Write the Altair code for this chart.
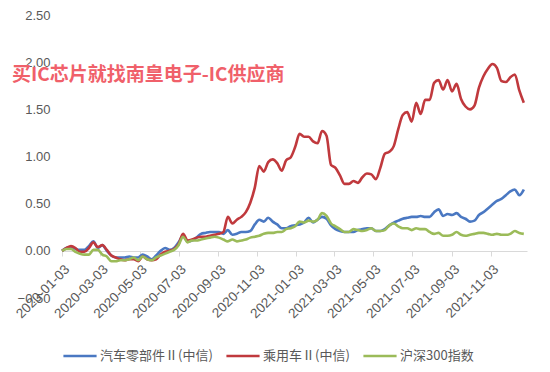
import altair as alt
import pandas as pd

# Weekly observation dates (x categories)
dates = pd.date_range("2020-01-03", periods=104, freq="7D")

# Cumulative returns
auto_parts = [
    0.00, 0.03, 0.04, 0.02, 0.01, 0.01, 0.05, 0.10, 0.03, 0.06,
    0.00, -0.05, -0.07, -0.07, -0.07, -0.06, -0.07, -0.07, -0.04, -0.06,
    -0.09, -0.05, 0.00, 0.03, 0.01, 0.03, 0.09, 0.16, 0.10, 0.11,
    0.14, 0.18, 0.19, 0.20, 0.20, 0.20, 0.18, 0.22, 0.17, 0.18,
    0.20, 0.20, 0.21, 0.28, 0.33, 0.31, 0.35, 0.31, 0.28, 0.24,
    0.24, 0.26, 0.27, 0.28, 0.30, 0.35, 0.30, 0.33, 0.36, 0.34,
    0.27, 0.23, 0.21, 0.20, 0.20, 0.20, 0.22, 0.23, 0.24, 0.24,
    0.21, 0.21, 0.23, 0.27, 0.30, 0.32, 0.34, 0.35, 0.36, 0.36,
    0.37, 0.36, 0.36, 0.41, 0.44, 0.37, 0.39, 0.38, 0.40, 0.36,
    0.34, 0.31, 0.32, 0.38, 0.41, 0.45, 0.49, 0.53, 0.55, 0.59,
    0.63, 0.65, 0.59, 0.65,
]
passenger_cars = [
    0.00, 0.03, 0.05, 0.03, -0.01, -0.01, 0.03, 0.09, 0.04, 0.06,
    0.01, -0.05, -0.07, -0.09, -0.10, -0.09, -0.09, -0.11, -0.06, -0.09,
    -0.10, -0.09, -0.04, -0.01, 0.00, 0.02, 0.07, 0.18, 0.11, 0.12,
    0.14, 0.15, 0.15, 0.16, 0.17, 0.18, 0.20, 0.36, 0.29, 0.33,
    0.36, 0.41, 0.51, 0.67, 0.90, 0.84, 0.94, 0.97, 0.93, 0.85,
    0.96, 0.99, 1.10, 1.24, 1.21, 1.21, 1.16, 1.14, 1.27, 1.22,
    0.91, 0.88, 0.80, 0.71, 0.71, 0.74, 0.72, 0.78, 0.82, 0.81,
    0.76, 0.88, 1.03, 1.05, 1.11, 1.29, 1.44, 1.47, 1.37, 1.57,
    1.45, 1.60, 1.60, 1.78, 1.81, 1.71, 1.81, 1.69, 1.77, 1.61,
    1.53, 1.50, 1.54, 1.73, 1.85, 1.93, 1.98, 1.94, 1.80, 1.79,
    1.84, 1.87, 1.70, 1.57,
]
csi300 = [
    0.00, 0.02, 0.02, -0.01, -0.03, -0.04, -0.04, 0.01, 0.01, -0.04,
    -0.06, -0.11, -0.11, -0.10, -0.10, -0.09, -0.07, -0.10, -0.06, -0.09,
    -0.10, -0.07, -0.05, -0.03, -0.01, 0.01, 0.06, 0.15, 0.09, 0.11,
    0.11, 0.12, 0.13, 0.14, 0.15, 0.14, 0.12, 0.10, 0.12, 0.10,
    0.11, 0.12, 0.14, 0.15, 0.16, 0.18, 0.19, 0.19, 0.20, 0.20,
    0.23, 0.24, 0.26, 0.31, 0.30, 0.32, 0.31, 0.33, 0.40, 0.37,
    0.29, 0.26, 0.23, 0.20, 0.20, 0.23, 0.22, 0.21, 0.22, 0.24,
    0.21, 0.21, 0.22, 0.27, 0.29, 0.26, 0.24, 0.24, 0.22, 0.24,
    0.23, 0.23, 0.20, 0.18, 0.19, 0.16, 0.16, 0.17, 0.20, 0.17,
    0.16, 0.17, 0.18, 0.19, 0.19, 0.18, 0.17, 0.18, 0.17, 0.17,
    0.18, 0.21, 0.19, 0.18,
]

series_names = ["汽车零部件Ⅱ(中信)", "乘用车Ⅱ(中信)", "沪深300指数"]
series_colors = ["#4a78c2", "#c0393d", "#9bbb59"]

x_tick_labels = [
    "2020-01-03", "2020-03-03", "2020-05-03", "2020-07-03", "2020-09-03", "2020-11-03",
    "2021-01-03", "2021-03-03", "2021-05-03", "2021-07-03", "2021-09-03", "2021-11-03",
]
y_ticks = [-0.5, 0.0, 0.5, 1.0, 1.5, 2.0, 2.5]
watermark = "买IC芯片就找南皇电子-IC供应商"

rows = []
for name, vals in zip(series_names, [auto_parts, passenger_cars, csi300]):
    for d, v in zip(dates, vals):
        rows.append({"date": d.strftime("%Y-%m-%d"), "series": name, "value": v})
df = pd.DataFrame(rows)

cjk = "Noto Sans CJK SC"
grey = "#595959"

lines = alt.Chart(df).mark_line(strokeWidth=2.6, interpolate="monotone").encode(
    x=alt.X(
        "date:T",
        scale=alt.Scale(domain=["2020-01-03", "2021-12-29"]),
        axis=alt.Axis(
            values=x_tick_labels,
            format="%Y-%m-%d",
            labelAngle=315,
            labelAlign="right",
            labelBaseline="top",
            labelFontSize=13.5,
            labelColor=grey,
            labelFont="Liberation Sans",
            labelPadding=6,
            tickSize=5,
            tickColor="#d9d9d9",
            domainColor="#d9d9d9",
            grid=False,
            offset=-47,
            title=None,
            labelOverlap=False,
        ),
    ),
    y=alt.Y(
        "value:Q",
        scale=alt.Scale(domain=[-0.5, 2.5], nice=False, zero=False),
        axis=alt.Axis(
            values=y_ticks,
            format=".2f",
            grid=False,
            domain=False,
            ticks=False,
            labelFontSize=13,
            labelColor=grey,
            labelFont="Liberation Sans",
            labelPadding=12,
            title=None,
        ),
    ),
    color=alt.Color(
        "series:N",
        scale=alt.Scale(domain=series_names, range=series_colors),
        sort=series_names,
        legend=alt.Legend(
            title=None,
            orient="none",
            direction="horizontal",
            legendX=0,
            legendY=323,
            symbolType="stroke",
            symbolSize=1100,
            symbolStrokeWidth=2.6,
            labelFont=cjk,
            labelFontSize=13,
            labelColor=grey,
            labelOffset=2,
            columnPadding=8,
        ),
    ),
)

wm = alt.Chart(pd.DataFrame({"t": [watermark]})).mark_text(
    font=cjk,
    fontSize=19,
    fontWeight="bold",
    color="#f0606a",
    align="left",
    baseline="middle",
).encode(
    text="t:N",
    x=alt.value(-50),
    y=alt.value(60),
)

chart = alt.layer(lines, wm).properties(
    width=465,
    height=283,
    autosize=alt.AutoSizeParams(type="none"),
    padding={"left": 54, "top": 7, "right": 15, "bottom": 70},
).configure(background="white", view=alt.ViewConfig(stroke=None))

chart.save("out.html", embed_options={"renderer": "svg", "actions": False})
